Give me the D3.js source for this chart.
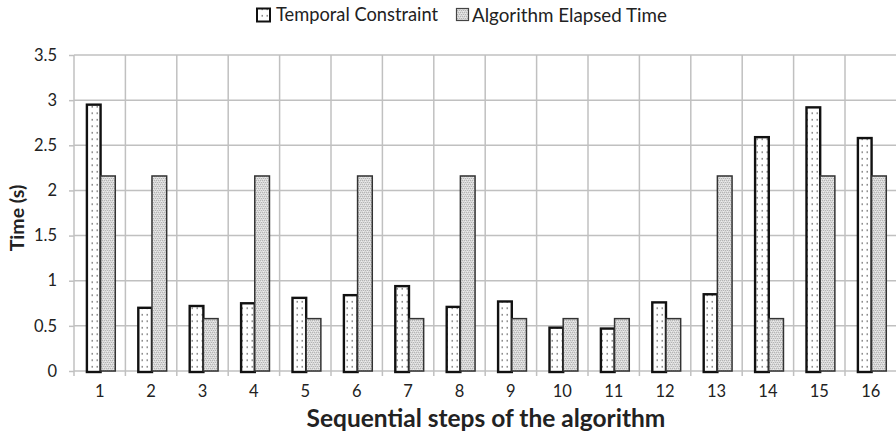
<!DOCTYPE html>
<html><head><meta charset="utf-8">
<script src="https://cdn.jsdelivr.net/npm/d3@7"></script>
<style>body{margin:0;background:#fff}svg{display:block}text{font-family:Lato,"Open Sans",sans-serif;fill:#222}</style>
</head><body><svg id="c" width="896" height="436"></svg>
<script>
const categories = ["1","2","3","4","5","6","7","8","9","10","11","12","13","14","15","16"];
const temporal = [2.95,0.70,0.72,0.75,0.81,0.84,0.94,0.71,0.77,0.48,0.47,0.76,0.85,2.59,2.92,2.58];
const elapsed  = [2.16,2.16,0.58,2.16,0.58,2.16,0.58,2.16,0.58,0.58,0.58,0.58,2.16,0.58,2.16,2.16];
const seriesNames = ["Temporal Constraint","Algorithm Elapsed Time"];
const yTicks = [0,0.5,1,1.5,2,2.5,3,3.5];

const svg = d3.select("#c");
const defs = svg.append("defs");
const pd = defs.append("pattern").attr("id","dots").attr("patternUnits","userSpaceOnUse").attr("width",5).attr("height",6.5);
pd.append("rect").attr("width",5).attr("height",6.5).attr("fill","#fff");
pd.append("rect").attr("x",1.5).attr("y",2).attr("width",1.5).attr("height",1.5).attr("fill","#777");
const pg = defs.append("pattern").attr("id","gray").attr("patternUnits","userSpaceOnUse").attr("width",4).attr("height",4);
pg.append("rect").attr("width",4).attr("height",4).attr("fill","#dadada");
[[0,0],[2,0],[1,2],[3,2]].forEach(([a,b])=>pg.append("rect").attr("x",a).attr("y",b).attr("width",1).attr("height",1).attr("fill","#b4b4b4"));
[[1,1],[3,3]].forEach(([a,b])=>pg.append("rect").attr("x",a).attr("y",b).attr("width",1).attr("height",1).attr("fill","#ececec"));

const L = 74, R = 896.4, T = 55, B = 371;
const x0 = d3.scaleBand().domain(categories).range([L,R]).paddingInner(0).paddingOuter(0);
const x1 = d3.scaleBand().domain(seriesNames).range([0,x0.bandwidth()]).paddingInner(0).paddingOuter(0.75).align(0.54);
const y = d3.scaleLinear().domain([0,3.5]).range([B,T]);

const grid = "#c0c0c0";
const ya = svg.append("g").attr("transform",`translate(${L},0)`)
  .call(d3.axisLeft(y).tickValues(yTicks).tickSize(5).tickPadding(12).tickFormat(d=>d));
ya.select(".domain").remove();
ya.selectAll(".tick line").attr("stroke",grid).attr("stroke-width",1.5);
ya.selectAll(".tick text").attr("font-size",16.5).style("fill","#222");
svg.append("g").selectAll("line").data(yTicks).join("line")
  .attr("x1",L).attr("x2",896).attr("y1",d=>y(d)).attr("y2",d=>y(d))
  .attr("stroke",grid).attr("stroke-width",1.5);
const bounds = categories.map(c=>x0(c));
svg.append("g").selectAll("line").data(bounds).join("line")
  .attr("x1",d=>d).attr("x2",d=>d).attr("y1",T).attr("y2",B+5)
  .attr("stroke",grid).attr("stroke-width",1.5);
const xa = svg.append("g").attr("transform",`translate(0,${B})`)
  .call(d3.axisBottom(x0).tickSize(0).tickPadding(14));
xa.select(".domain").remove();
xa.selectAll(".tick text").attr("font-size",16.5).style("fill","#222");

const g = svg.append("g");
categories.forEach((c,i)=>{
  g.append("rect").attr("x",x0(c)+x1(seriesNames[0])+1).attr("width",x1.bandwidth()-1)
    .attr("y",y(temporal[i])).attr("height",y(0)-y(temporal[i])+1)
    .attr("fill","url(#dots)").attr("stroke","#111").attr("stroke-width",2.4);
  g.append("rect").attr("x",x0(c)+x1(seriesNames[1])).attr("width",x1.bandwidth())
    .attr("y",y(elapsed[i])).attr("height",y(0)-y(elapsed[i]))
    .attr("fill","url(#gray)").attr("stroke","#333").attr("stroke-width",1.5);
});

const lg = svg.append("g");
lg.append("rect").attr("x",257).attr("y",8.5).attr("width",13).attr("height",13)
  .attr("fill","url(#dots)").attr("stroke","#111").attr("stroke-width",2);
lg.append("text").attr("x",276).attr("y",15).attr("dy","0.35em").attr("font-size",18.3).text(seriesNames[0]);
lg.append("rect").attr("x",456.5).attr("y",8.5).attr("width",12).attr("height",12)
  .attr("fill","url(#gray)").attr("stroke","#444").attr("stroke-width",1.2);
lg.append("text").attr("x",472).attr("y",15).attr("dy","0.35em").attr("font-size",18.8).text(seriesNames[1]);

svg.append("text").attr("x",486).attr("y",427).attr("text-anchor","middle")
  .attr("font-size",24.5).attr("font-weight","bold").text("Sequential steps of the algorithm");
svg.append("text").attr("transform","translate(24,218) rotate(-90)").attr("text-anchor","middle")
  .attr("font-size",19.5).attr("font-weight","bold").text("Time (s)");
</script></body></html>
